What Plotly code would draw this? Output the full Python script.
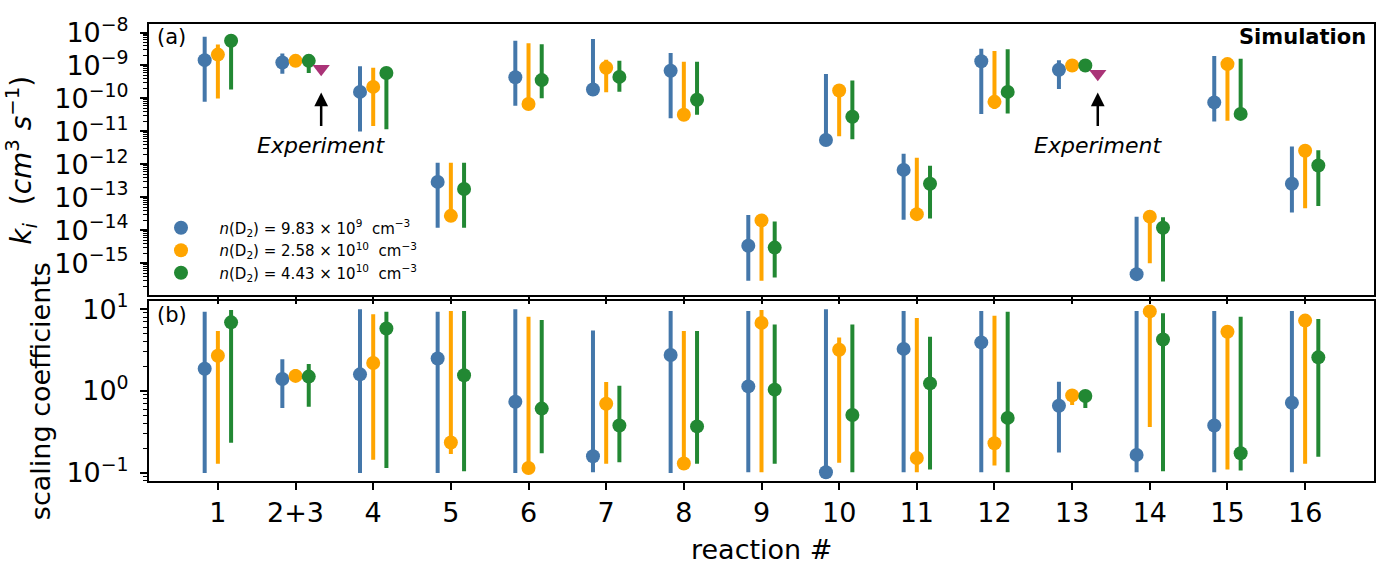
import plotly.graph_objects as go
from plotly.subplots import make_subplots
import numpy as np

categories = ["1", "2+3", "4", "5", "6", "7", "8", "9", "10", "11", "12", "13", "14", "15", "16"]
legend_names = [
    "\u2002<i>n</i>(D<sub>2</sub>) = 9.83 × 10<sup>9</sup>  cm<sup>−3</sup>",
    "\u2002<i>n</i>(D<sub>2</sub>) = 2.58 × 10<sup>10</sup>  cm<sup>−3</sup>",
    "\u2002<i>n</i>(D<sub>2</sub>) = 4.43 × 10<sup>10</sup>  cm<sup>−3</sup>",
]

# (a) rate coefficients k_i [cm^3 s^-1]: value, upper, lower
k_blue = [1.45e-9, 1.23e-9, 1.58e-10, 2.95e-13, 4.4e-10, 1.86e-10, 6.9e-10, 3.4e-15,
          5.5e-12, 6.8e-13, 1.35e-9, 7.4e-10, 4.7e-16, 7.6e-11, 2.6e-13]
k_blue_hi = [7.4e-9, 2.3e-9, 9.5e-10, 1.12e-12, 5.6e-9, 6.3e-9, 2.4e-9, 2.9e-14,
             5.5e-10, 2.1e-12, 3.2e-9, 1.45e-9, 2.6e-14, 1.95e-9, 3.5e-12]
k_blue_lo = [7.9e-11, 5.6e-10, 1.0e-11, 1.2e-14, 6.0e-11, 1.6e-10, 2.5e-11, 2.95e-16,
             5.0e-12, 2.1e-14, 3.4e-11, 1.95e-10, 4.0e-16, 2.0e-11, 3.5e-14]

k_orange = [2.14e-9, 1.38e-9, 2.24e-10, 2.75e-14, 6.8e-11, 8.5e-10, 3.2e-11, 2.0e-14,
            1.74e-10, 3.1e-14, 7.9e-11, 1.0e-9, 2.6e-14, 1.1e-9, 2.6e-12]
k_orange_hi = [4.3e-9, 1.6e-9, 8.5e-10, 1.12e-12, 4.7e-9, 1.5e-9, 1.3e-9, 2.3e-14,
               2.0e-10, 1.6e-12, 2.75e-9, 1.1e-9, 3.0e-14, 1.25e-9, 3.0e-12]
k_orange_lo = [1.0e-10, 1.2e-9, 1.45e-11, 2.2e-14, 6.0e-11, 1.55e-10, 2.8e-11, 2.95e-16,
               7.2e-12, 2.7e-14, 4.8e-11, 9.0e-10, 1.0e-15, 2.1e-11, 4.7e-14]

k_green = [5.6e-9, 1.38e-9, 5.9e-10, 1.8e-13, 3.6e-10, 4.5e-10, 9.1e-11, 3.0e-15,
           2.8e-11, 2.6e-13, 1.58e-10, 1.0e-9, 1.2e-14, 3.4e-11, 9.3e-13]
k_green_hi = [7.0e-9, 1.7e-9, 8.0e-10, 1.12e-12, 4.4e-9, 1.38e-9, 1.3e-9, 1.86e-14,
              3.5e-10, 9.1e-13, 3.1e-9, 1.1e-9, 2.5e-14, 1.6e-9, 2.7e-12]
k_green_lo = [1.86e-10, 5.9e-10, 1.17e-11, 1.2e-14, 1.02e-10, 1.6e-10, 3.2e-11, 3.7e-16,
              5.8e-12, 2.3e-14, 3.5e-11, 9.0e-10, 2.8e-16, 3.0e-11, 5.5e-14]

exp_index = [1, 11]
exp_values = [7.9e-10, 5.6e-10]

# (b) scaling coefficients: value, upper, lower
s_blue = [1.87, 1.4, 1.6, 2.5, 0.74, 0.16, 2.75, 1.14, 0.102, 3.27, 3.93, 0.66, 0.166, 0.38, 0.72]
s_blue_hi = [9.3, 2.45, 10.0, 9.3, 10.0, 5.5, 9.5, 9.5, 10.0, 9.5, 9.5, 1.3, 9.5, 9.5, 9.5]
s_blue_lo = [0.1, 0.62, 0.1, 0.1, 0.1, 0.102, 0.1, 0.102, 0.1, 0.102, 0.102, 0.178, 0.102, 0.102, 0.102]

s_orange = [2.7, 1.53, 2.2, 0.235, 0.115, 0.70, 0.13, 6.8, 3.2, 0.152, 0.23, 0.885, 9.4, 5.3, 7.25]
s_orange_hi = [5.4, 1.86, 8.7, 9.5, 8.1, 1.29, 5.4, 9.8, 4.5, 7.8, 8.3, 0.95, 9.8, 6.0, 8.0]
s_orange_lo = [0.129, 1.4, 0.145, 0.17, 0.11, 0.129, 0.125, 0.102, 0.133, 0.102, 0.123, 0.676, 0.363, 0.11, 0.129]

s_green = [6.9, 1.5, 5.8, 1.56, 0.61, 0.38, 0.37, 1.04, 0.51, 1.24, 0.47, 0.87, 4.27, 0.174, 2.58]
s_green_hi = [9.8, 2.14, 9.3, 9.5, 7.4, 1.16, 5.4, 6.5, 6.5, 4.6, 9.3, 1.0, 8.9, 8.1, 7.6]
s_green_lo = [0.234, 0.645, 0.115, 0.105, 0.174, 0.135, 0.129, 0.129, 0.102, 0.11, 0.102, 0.62, 0.105, 0.107, 0.158]

colors = ["#4477AA", "#FFA500", "#228833"]
exp_color = "#AA3377"
offsets = [-0.17, 0.0, 0.17]
exp_offset = 0.33
FONT = "DejaVu Sans"

fig = make_subplots(rows=2, cols=1, shared_xaxes=False)

idx = np.arange(len(categories))

top_sets = [(k_blue, k_blue_hi, k_blue_lo), (k_orange, k_orange_hi, k_orange_lo), (k_green, k_green_hi, k_green_lo)]
bot_sets = [(s_blue, s_blue_hi, s_blue_lo), (s_orange, s_orange_hi, s_orange_lo), (s_green, s_green_hi, s_green_lo)]

for j in range(3):
    v, hi, lo = [np.array(a) for a in top_sets[j]]
    fig.add_trace(go.Scatter(
        x=idx + offsets[j], y=v, mode="markers", name=legend_names[j],
        marker=dict(color=colors[j], size=14, line=dict(width=0)),
        error_y=dict(type="data", symmetric=False, array=hi - v, arrayminus=v - lo,
                     color=colors[j], thickness=4, width=0),
        showlegend=True), row=1, col=1)

for j in range(3):
    v, hi, lo = [np.array(a) for a in bot_sets[j]]
    fig.add_trace(go.Scatter(
        x=idx + offsets[j], y=v, mode="markers", name=legend_names[j],
        marker=dict(color=colors[j], size=14, line=dict(width=0)),
        error_y=dict(type="data", symmetric=False, array=hi - v, arrayminus=v - lo,
                     color=colors[j], thickness=4, width=0),
        showlegend=False), row=2, col=1)

fig.add_trace(go.Scatter(
    x=np.array(exp_index) + exp_offset, y=exp_values, mode="markers",
    marker=dict(symbol="triangle-down", color=exp_color, size=15, line=dict(width=0)),
    showlegend=False), row=1, col=1)

axis_common = dict(showline=True, linewidth=2, linecolor="black", mirror=True,
                   ticks="outside", tickcolor="black", tickwidth=2, ticklen=7,
                   showgrid=False, zeroline=False,
                   tickfont=dict(family=FONT, size=27, color="black"))

xr = [-0.887, 14.887]
fig.update_xaxes(range=xr, tickmode="array", tickvals=list(idx), ticktext=categories,
                 **axis_common)
fig.update_xaxes(showticklabels=False, row=1, col=1)
fig.update_xaxes(domain=[0, 1])

top_major = [10.0 ** e for e in range(-15, -7)]
top_text = ["10<sup>−%d</sup>" % (-e) for e in range(-15, -7)]
top_minor = [m * 10.0 ** e for e in range(-16, -7) for m in range(2, 10)]
fig.update_yaxes(type="log", range=[-15.947, -7.742], tickmode="array",
                 tickvals=top_major, ticktext=top_text, domain=[0.408, 1.0],
                 minor=dict(tickmode="array", tickvals=top_minor, ticks="outside",
                            ticklen=4, tickwidth=1, tickcolor="black", showgrid=False),
                 ticklabelstandoff=6,
                 row=1, col=1, **axis_common)

bot_major = [0.1, 1.0, 10.0]
bot_text = ["10<sup>−1</sup>", "10<sup>0</sup>", "10<sup>1</sup>"]
bot_minor = [m * 10.0 ** e for e in range(-2, 2) for m in range(2, 10)]
fig.update_yaxes(type="log", range=[-1.099, 1.095], tickmode="array",
                 tickvals=bot_major, ticktext=bot_text, domain=[0.0, 0.393],
                 minor=dict(tickmode="array", tickvals=bot_minor, ticks="outside",
                            ticklen=4, tickwidth=1, tickcolor="black", showgrid=False),
                 ticklabelstandoff=6,
                 row=2, col=1, **axis_common)

ann = []
# panel labels
ann.append(dict(text="(a)", xref="paper", yref="paper", x=(155 - 149) / 1225, y=(481 - 26) / 468,
                xanchor="left", yanchor="middle", showarrow=False,
                font=dict(family=FONT, size=21, color="black")))
ann.append(dict(text="(b)", xref="paper", yref="paper", x=(155 - 149) / 1225, y=(481 - 311) / 468,
                xanchor="left", yanchor="middle", showarrow=False,
                font=dict(family=FONT, size=21, color="black")))
ann.append(dict(text="<b>Simulation</b>", xref="paper", yref="paper", x=(1368 - 149) / 1225,
                y=(481 - 26) / 468, xanchor="right", yanchor="middle", showarrow=False,
                font=dict(family=FONT, size=21, color="black")))
# experiment arrows and labels
for i in exp_index:
    xe = i + exp_offset
    ann.append(dict(x=xe, y=-9.82, ax=xe, ay=-10.88, xref="x", yref="y", axref="x", ayref="y",
                    text="", showarrow=True, arrowhead=2, arrowsize=1.1, arrowwidth=2.5,
                    arrowcolor="black"))
    ann.append(dict(x=xe, y=-11.44, xref="x", yref="y", text="<i>Experiment</i>",
                    showarrow=False, xanchor="center", yanchor="middle",
                    font=dict(family=FONT, size=22, color="black")))
# axis titles
ann.append(dict(text="<i>k<sub>i</sub></i>  (<i>cm</i><sup>3</sup> <i>s</i><sup>−1</sup>)",
                xref="paper", yref="paper", x=(22 - 149) / 1225, y=(481 - 153) / 468,
                xanchor="center", yanchor="middle", textangle=-90, showarrow=False,
                font=dict(family=FONT, size=28, color="black")))
ann.append(dict(text="scaling coefficients", xref="paper", yref="paper",
                x=(40 - 149) / 1225, y=(481 - 389) / 468,
                xanchor="center", yanchor="middle", textangle=-90, showarrow=False,
                font=dict(family=FONT, size=27, color="black")))
ann.append(dict(text="reaction #", xref="paper", yref="paper",
                x=(761 - 149) / 1225, y=-(551 - 481) / 468,
                xanchor="center", yanchor="middle", showarrow=False,
                font=dict(family=FONT, size=27, color="black")))

fig.update_layout(
    width=1394, height=566,
    margin=dict(l=149, r=20, t=13, b=85),
    paper_bgcolor="white", plot_bgcolor="white",
    font=dict(family=FONT, color="black"),
    annotations=ann,
    legend=dict(x=(150 - 149) / 1225, y=(481 - 205) / 468, xanchor="left", yanchor="top",
                bgcolor="rgba(0,0,0,0)", borderwidth=0, tracegroupgap=0, itemwidth=52,
                font=dict(family=FONT, size=15, color="black")),
)

fig.write_html("out.html")
